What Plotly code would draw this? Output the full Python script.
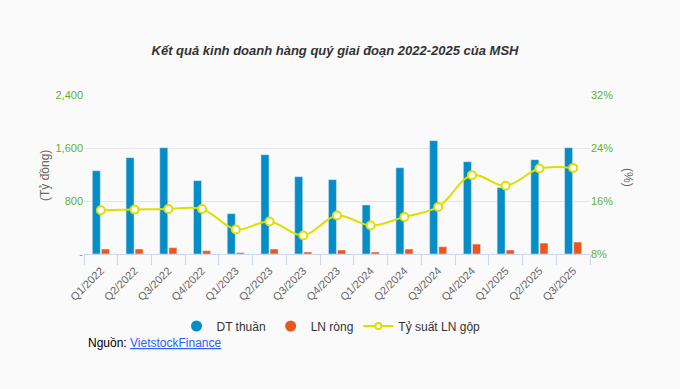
import plotly.graph_objects as go

categories = ["Q1/2022", "Q2/2022", "Q3/2022", "Q4/2022", "Q1/2023", "Q2/2023", "Q3/2023",
              "Q4/2023", "Q1/2024", "Q2/2024", "Q3/2024", "Q4/2024", "Q1/2025", "Q2/2025", "Q3/2025"]
dt_thuan = [1257, 1454, 1605, 1107, 609, 1499, 1167, 1122, 740, 1303, 1711, 1394, 1001, 1424, 1605]
ln_rong = [75, 75, 95, 50, 20, 75, 30, 60, 30, 75, 110, 150, 60, 165, 180]
ty_suat = [14.6, 14.7, 14.8, 14.8, 11.7, 12.9, 10.8, 13.8, 12.3, 13.6, 15.1, 19.9, 18.3, 20.9, 21.0]

left_ticks = [0, 800, 1600, 2400]
left_ticktext = ["-", "800", "1,600", "2,400"]
right_ticks = [8, 16, 24, 32]
right_ticktext = ["8%", "16%", "24%", "32%"]

BLUE = "#058DC7"
ORANGE = "#ED561B"
YELLOW = "#DDDF00"
GREEN = "#66B032"

fig = go.Figure()
fig.add_trace(go.Bar(x=categories, y=dt_thuan, name="DT thuần", marker_color=BLUE,
                     showlegend=False, yaxis="y"))
fig.add_trace(go.Bar(x=categories, y=ln_rong, name="LN ròng", marker_color=ORANGE,
                     showlegend=False, yaxis="y"))
fig.add_trace(go.Scatter(x=categories, y=ty_suat, name="Tỷ suất LN gộp", yaxis="y2",
                         mode="lines+markers", line=dict(color=YELLOW, width=2, shape="spline"),
                         marker=dict(symbol="circle", size=8, color="white",
                                     line=dict(color=YELLOW, width=2)),
                         showlegend=False))
# legend entries
fig.add_trace(go.Scatter(x=[None], y=[None], mode="markers", name="DT thuần",
                         marker=dict(symbol="circle", size=11, color=BLUE)))
fig.add_trace(go.Scatter(x=[None], y=[None], mode="markers", name="LN ròng",
                         marker=dict(symbol="circle", size=11, color=ORANGE)))
fig.add_trace(go.Scatter(x=[None], y=[None], mode="lines+markers", name="Tỷ suất LN gộp",
                         line=dict(color=YELLOW, width=2),
                         marker=dict(symbol="circle", size=6, color="white",
                                     line=dict(color=YELLOW, width=2))))

fig.update_layout(
    width=680, height=389,
    margin=dict(l=84, r=90, t=95, b=135, autoexpand=False),
    paper_bgcolor="#FAFAFA", plot_bgcolor="#FAFAFA",
    font=dict(family="Liberation Sans, Arial, sans-serif", color="#666666", size=11),
    title=dict(text="<b><i>Kết quả kinh doanh hàng quý giai đoạn 2022-2025 của MSH</i></b>",
               x=335 / 680, xanchor="center", y=1 - 50 / 389, yanchor="middle", yref="container",
               font=dict(size=13, color="#333333")),
    barmode="group", bargap=0.46, bargroupgap=0.12,
    xaxis=dict(type="category", tickangle=-45, showgrid=False, automargin=False,
               range=[-0.5, len(categories) - 0.5], fixedrange=True,
               showline=True, linecolor="#CCD6EB", linewidth=1,
               ticks="outside", tickson="boundaries", ticklen=10, tickcolor="#CCD6EB",
               ticklabelstandoff=5,
               tickfont=dict(size=11, color="#666666")),
    yaxis=dict(range=[0, 2400], tickvals=left_ticks, ticktext=left_ticktext, automargin=False,
               showgrid=True, gridcolor="#E6E6E6", gridwidth=1, zeroline=False,
               tickfont=dict(size=11, color=GREEN), ticks="", ticklabelstandoff=0),
    yaxis2=dict(range=[8, 32], tickvals=right_ticks, ticktext=right_ticktext, automargin=False,
                overlaying="y", side="right", showgrid=False, zeroline=False,
                tickfont=dict(size=11, color=GREEN), ticks="", ticklabelstandoff=0),
    legend=dict(orientation="h", x=0.5 - 6 / 506, xanchor="center", y=-(326 - 254) / 159,
                yanchor="middle", font=dict(size=12, color="#333333"),
                bgcolor="rgba(0,0,0,0)", itemwidth=30, tracegroupgap=0),
    annotations=[
        dict(text="(Tỷ đồng)", textangle=-90, xref="paper", yref="paper",
             x=(45 - 84) / 506, y=(254 - 176) / 159, xanchor="center", yanchor="middle",
             showarrow=False, font=dict(size=12, color="#666666")),
        dict(text="(%)", textangle=90, xref="paper", yref="paper",
             x=(628 - 84) / 506, y=(254 - 177) / 159, xanchor="center", yanchor="middle",
             showarrow=False, font=dict(size=12, color="#666666")),
        dict(text="Nguồn: <a href='https://finance.vietstock.vn/'><span style='color:#2962FF;text-decoration:underline'>VietstockFinance</span></a>",
             xref="paper", yref="paper", x=(86 - 84) / 506, y=(254 - 343) / 159,
             xanchor="left", yanchor="middle", showarrow=False,
             font=dict(size=12, color="#000000")),
    ],
)

fig.write_html("out.html", config={"displayModeBar": False},
               post_script="document.body.style.margin='0';document.body.style.background='#FAFAFA';")
